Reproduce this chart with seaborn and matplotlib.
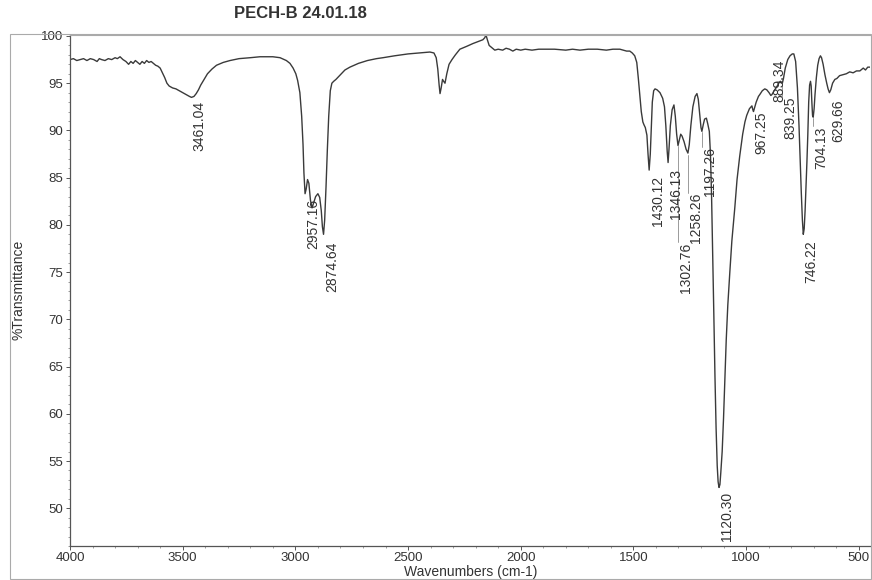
"""FTIR spectrum of PECH-B (24.01.18) with labelled absorption peaks."""

import matplotlib

matplotlib.use("Agg")
import matplotlib.pyplot as plt
import numpy as np
import seaborn as sns
from matplotlib.patches import Rectangle
from matplotlib.ticker import MultipleLocator

TITLE = "PECH-B 24.01.18"

# spectrum (cm-1, %T)
wavenumber = [
    4000, 3985, 3970, 3955, 3940, 3925, 3910, 3895, 3880, 3870, 3860, 3845, 3830, 3815,
    3800, 3790, 3778, 3765, 3752, 3740, 3730, 3720, 3710, 3700, 3690, 3680, 3670, 3660,
    3650, 3640, 3630, 3620, 3610, 3600, 3590, 3580, 3570, 3560, 3545, 3530, 3515, 3500,
    3485, 3470, 3461, 3450, 3440, 3430, 3420, 3405, 3390, 3370, 3350, 3320, 3290, 3250,
    3200, 3157, 3100, 3068, 3040, 3024, 3010, 2998, 2990, 2980, 2972, 2966, 2962, 2957,
    2952, 2946, 2940, 2933, 2926, 2918, 2910, 2900, 2892, 2885, 2880, 2875, 2870, 2864,
    2858, 2852, 2845, 2838, 2830, 2820, 2800, 2780, 2758, 2720, 2680, 2640, 2611, 2560,
    2500, 2450, 2403, 2385, 2375, 2368, 2362, 2358, 2353, 2347, 2342, 2336, 2328, 2318,
    2305, 2290, 2270, 2240, 2212, 2190, 2168, 2160, 2154, 2148, 2140, 2130, 2115, 2100,
    2080, 2065, 2050, 2035, 2020, 2000, 1980, 1950, 1920, 1884, 1850, 1800, 1770, 1737,
    1700, 1660, 1620, 1591, 1560, 1530, 1516, 1505, 1494, 1485, 1478, 1471, 1465, 1458,
    1453, 1447, 1440, 1435, 1430, 1425, 1420, 1416, 1410, 1404, 1395, 1382, 1370, 1362,
    1356, 1350, 1346, 1342, 1336, 1328, 1320, 1314, 1308, 1302, 1296, 1290, 1284, 1275,
    1266, 1258, 1252, 1245, 1236, 1226, 1218, 1212, 1206, 1200, 1196, 1190, 1184, 1176,
    1170, 1163, 1158, 1153, 1148, 1143, 1138, 1133, 1128, 1124, 1120, 1116, 1112, 1106,
    1100, 1094, 1088, 1081, 1072, 1063, 1050, 1040, 1028, 1015, 1005, 997, 985, 974,
    970, 967, 962, 955, 945, 939, 928, 917, 908, 898, 890, 885, 878, 870,
    864, 855, 848, 842, 839, 834, 826, 815, 805, 795, 788, 780, 772, 765,
    760, 755, 750, 746, 742, 738, 734, 730, 726, 722, 718, 714, 711, 708,
    705, 702, 698, 694, 688, 682, 676, 670, 665, 658, 650, 642, 636, 630,
    624, 616, 606, 597, 585, 570, 555, 540, 525, 510, 495, 480, 470, 460, 450,
]
transmittance = [
    97.5, 97.6, 97.4, 97.5, 97.6, 97.4, 97.6, 97.5, 97.3, 97.6, 97.5, 97.4, 97.6, 97.5,
    97.7, 97.6, 97.8, 97.5, 97.3, 97.0, 97.3, 97.1, 97.4, 97.2, 97.0, 97.3, 97.1, 97.4,
    97.2, 97.3, 97.1, 96.9, 96.8, 96.6, 96.1, 95.6, 95.0, 94.7, 94.5, 94.4, 94.2, 94.0,
    93.8, 93.6, 93.5, 93.6, 93.9, 94.3, 94.8, 95.4, 96.0, 96.5, 96.9, 97.2, 97.4, 97.6,
    97.7, 97.8, 97.8, 97.7, 97.4, 97.1, 96.6, 96.0, 95.3, 94.0, 91.5, 88.5, 85.5, 83.3,
    83.8, 84.8, 84.4, 82.6, 81.8, 82.4, 83.0, 83.3, 82.9, 81.5, 79.8, 79.0, 80.5, 84.0,
    88.0, 91.5, 94.2, 95.0, 95.2, 95.4, 95.9, 96.4, 96.7, 97.1, 97.4, 97.6, 97.7, 97.9,
    98.1, 98.2, 98.3, 98.2, 97.7, 96.5, 94.8, 93.9, 94.5, 95.4, 95.2, 95.0, 96.0, 97.0,
    97.5, 98.0, 98.6, 98.9, 99.2, 99.4, 99.6, 99.8, 100.1, 99.6, 99.0, 98.8, 98.5, 98.6,
    98.5, 98.7, 98.6, 98.4, 98.6, 98.5, 98.6, 98.5, 98.6, 98.6, 98.6, 98.5, 98.6, 98.5,
    98.6, 98.6, 98.5, 98.6, 98.6, 98.4, 98.4, 98.2, 97.9, 97.2, 95.5, 93.6, 92.0, 90.9,
    90.6, 90.3, 89.5, 87.5, 85.8, 87.5, 90.5, 93.0, 94.2, 94.4, 94.3, 94.0, 93.4, 92.5,
    90.5, 87.8, 86.6, 88.0, 90.5, 92.2, 92.7, 91.5, 89.6, 88.4, 89.0, 89.6, 89.4, 88.8,
    88.0, 87.6, 88.5, 90.5, 92.5, 93.6, 93.9, 93.3, 91.8, 90.3, 89.9, 90.6, 91.2, 91.3,
    90.7, 89.9, 87.5, 83.0, 77.0, 70.5, 64.0, 58.5, 54.5, 52.8, 52.2, 52.5, 53.8, 56.0,
    59.5, 63.5, 67.8, 71.5, 75.0, 78.3, 81.8, 84.8, 87.3, 89.6, 90.9, 91.6, 92.3, 92.6,
    92.2, 92.0, 92.4, 93.0, 93.6, 93.8, 94.2, 94.4, 94.3, 94.0, 93.7, 93.8, 94.1, 94.4,
    94.6, 95.0, 95.2, 95.1, 95.0, 95.5, 96.6, 97.5, 97.9, 98.1, 98.1, 97.3, 94.5, 90.5,
    87.0, 83.5, 80.5, 79.0, 79.6, 81.5, 84.0, 86.6, 89.5, 93.0, 94.8, 95.2, 94.7, 93.0,
    91.6, 91.4, 92.3, 93.8, 95.6, 96.9, 97.6, 97.9, 97.7, 97.0, 95.9, 95.0, 94.4, 94.0,
    94.3, 95.0, 95.4, 95.5, 95.8, 95.9, 96.0, 96.2, 96.1, 96.3, 96.3, 96.6, 96.4, 96.7, 96.7,
]

# peak labels printed by the instrument software
peak_positions = [3461.04, 2957.16, 2874.64, 1430.12, 1346.13, 1302.76, 1258.26, 1197.26,
                  1120.30, 967.25, 889.34, 839.25, 746.22, 704.13, 629.66]
peak_labels = ["3461.04", "2957.16", "2874.64", "1430.12", "1346.13", "1302.76", "1258.26",
               "1197.26", "1120.30", "967.25", "889.34", "839.25", "746.22", "704.13", "629.66"]
# how far below the dip each label starts (in %T)
label_drop = [0.4, 0.6, 0.9, 0.6, 0.7, 10.4, 4.2, 1.8, 0.5, 0.0, -3.8, 1.4, 0.7, 1.1, 0.7]

INK = "#3a3a3a"


def main() -> None:
    sns.set_style("ticks")
    plt.rcParams["font.family"] = ["Liberation Sans", "DejaVu Sans"]

    fig = plt.figure(figsize=(8.72, 5.8), dpi=100)
    ax = fig.add_axes([0.0803, 0.0586, 0.9174, 0.881])

    # outer frame of the printout
    fig.patches.append(Rectangle((0.011, 0.002), 0.988, 0.939, transform=fig.transFigure,
                                 fill=False, edgecolor="#aaaaaa", linewidth=0.8))

    sns.lineplot(x=wavenumber, y=transmittance, sort=False, estimator=None,
                 color=INK, linewidth=1.0, ax=ax)

    wn_asc = np.array(wavenumber[::-1], dtype=float)
    tr_asc = np.array(transmittance[::-1], dtype=float)
    for pos, text, drop in zip(peak_positions, peak_labels, label_drop):
        dip = float(np.interp(pos, wn_asc, tr_asc))
        top = dip - drop
        if drop > 1.0:
            ax.plot([pos, pos], [dip - 0.2, top], color="#8a8a8a", linewidth=0.6)
        ax.annotate(text, xy=(pos, top), xytext=(1, 0), textcoords="offset points",
                    rotation=90, ha="left", va="top", fontsize=10, color="#333333")

    ax.set_xlim(4000, 450)
    ax.set_ylim(46, 100.1)
    ax.xaxis.set_major_locator(MultipleLocator(500))
    ax.xaxis.set_minor_locator(MultipleLocator(100))
    ax.yaxis.set_major_locator(MultipleLocator(5))
    ax.yaxis.set_minor_locator(MultipleLocator(1))
    ax.set_yticks(range(50, 101, 5))
    ax.tick_params(which="major", length=3, width=0.7, colors="#555555",
                   labelcolor="#333333", labelsize=9.5)
    ax.tick_params(axis="x", which="major", pad=1.5)
    ax.tick_params(axis="y", which="major", pad=2)
    ax.tick_params(which="minor", length=1.5, width=0.5, colors="#777777")

    for side in ["left", "bottom"]:
        ax.spines[side].set_color("#555555")
        ax.spines[side].set_linewidth(0.9)
    ax.spines["top"].set_color("#aaaaaa")
    ax.spines["top"].set_linewidth(0.8)
    ax.spines["right"].set_visible(False)

    ax.set_xlabel("")
    ax.set_ylabel("")
    fig.text(0.54, 0.002, "Wavenumbers (cm-1)", ha="center", va="bottom",
             fontsize=10, color="#333333")
    fig.text(0.021, 0.50, "%Transmittance", ha="center", va="center", rotation=90,
             fontsize=10, color="#333333")
    fig.text(0.345, 0.976, TITLE, ha="center", va="center", fontsize=12,
             fontweight="bold", color="#333333")

    fig.savefig("out.png", dpi=100)
    plt.close(fig)


if __name__ == "__main__":
    main()
